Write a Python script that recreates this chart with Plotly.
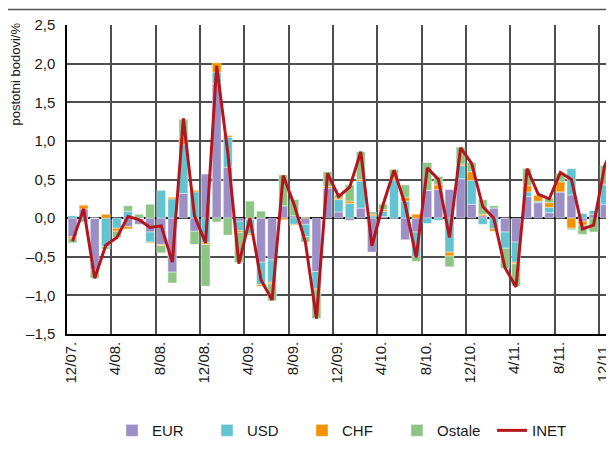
import plotly.graph_objects as go

tick_labels = ["12/07.", "4/08.", "8/08.", "12/08.", "4/09.", "8/09.", "12/09.",
               "4/10.", "8/10.", "12/10.", "4/11.", "8/11.", "12/11."]

eur = [-0.24, 0.12, -0.67, 0.00, 0.00, -0.11, -0.08, -0.18, -0.34, -0.70,
       0.32, -0.17, 0.57, 1.74, 0.66, -0.04, -0.02, -0.57, -0.54, 0.16,
       0.03, -0.08, -0.69, 0.39, 0.08, -0.03, 0.13, -0.44, 0.02, 0.00,
       -0.28, -0.18, 0.36, 0.37, 0.37, 0.51, 0.18, 0.03, 0.13, -0.18,
       -0.31, 0.28, 0.20, 0.07, 0.34, 0.30, -0.04, 0.05, 0.18, 0.38]
usd = [0.03, -0.05, 0.00, -0.37, -0.13, 0.09, 0.00, -0.13, 0.36, 0.25,
       0.63, 0.34, -0.32, 0.15, 0.39, -0.125, -0.18, -0.29, -0.29, 0.00,
       -0.08, -0.16, -0.22, 0.00, 0.16, 0.19, 0.35, 0.03, 0.07, 0.49,
       0.22, -0.32, -0.07, -0.03, -0.44, 0.17, 0.31, -0.08, -0.14, -0.21,
       -0.26, 0.06, 0.02, 0.07, 0.00, 0.34, 0.06, 0.05, 0.25, 0.21]
chf = [-0.02, 0.05, 0.00, 0.05, -0.04, -0.03, 0.00, -0.01, -0.015, 0.02,
       0.10, 0.02, -0.02, 0.12, 0.02, -0.02, -0.02, -0.02, -0.02, -0.02,
       -0.01, 0.01, -0.02, 0.02, 0.02, 0.03, 0.02, 0.02, 0.02, 0.02,
       0.05, 0.05, 0.00, 0.06, -0.05, 0.02, 0.11, 0.02, -0.03, 0.00,
       -0.02, 0.08, 0.08, 0.06, 0.13, -0.13, -0.05, 0.00, 0.01, 0.05]
ostale = [-0.06, 0.00, -0.11, -0.03, -0.08, 0.07, 0.05, 0.18, -0.095, -0.14,
          0.23, -0.17, -0.54, -0.05, -0.22, -0.39, 0.22, 0.09, -0.22, 0.40,
          0.21, -0.07, -0.37, 0.19, 0.04, 0.21, 0.36, 0.03, 0.07, 0.12,
          0.16, -0.06, 0.36, 0.11, -0.14, 0.22, 0.12, 0.19, 0.03, -0.26,
          -0.29, 0.22, 0.00, 0.06, 0.11, -0.02, -0.12, -0.18, 0.24, 0.34]
inet = [-0.30, 0.12, -0.78, -0.35, -0.25, 0.02, -0.02, -0.12, -0.10, -0.57,
        1.29, 0.03, -0.32, 1.97, 0.85, -0.59, 0.00, -0.80, -1.06, 0.55,
        0.17, -0.31, -1.30, 0.58, 0.28, 0.40, 0.86, -0.36, 0.17, 0.62,
        0.18, -0.51, 0.65, 0.50, -0.25, 0.91, 0.71, 0.15, 0.00, -0.64,
        -0.89, 0.64, 0.31, 0.25, 0.59, 0.50, -0.14, -0.09, 0.68, 0.99]

y_ticks = [2.5, 2.0, 1.5, 1.0, 0.5, 0.0, -0.5, -1.0, -1.5]
y_tick_text = ["2,5", "2,0", "1,5", "1,0", "0,5", "0,0", "–0,5", "–1,0", "–1,5"]

x = list(range(len(inet)))
tick_pos = list(range(0, len(inet), 4))[:len(tick_labels)]

FONT = "Liberation Sans, Arial, sans-serif"

series = [("EUR", eur, "#9b8fc6"), ("USD", usd, "#62c3d1"),
          ("CHF", chf, "#f39200"), ("Ostale", ostale, "#8dc585")]

fig = go.Figure()
for name, vals, col in series:
    fig.add_trace(go.Bar(x=x, y=vals, name=name, marker_color=col,
                         marker_line_color="rgba(255,255,255,0.7)",
                         marker_line_width=0.6))
fig.add_trace(go.Scatter(x=x, y=inet, name="INET", mode="lines",
                         line=dict(color="#b5161e", width=3)))

# the page body has an 8px margin: figure is laid out in page coords minus 8
OFF = 8
W, H = 614 - OFF, 463 - OFF
L = 67.3 - OFF
T = 24.6 - OFF
PB = 334.2 - OFF
B = H - PB
PH = PB - T
PW = W - L

fig.update_layout(
    template="none",
    width=W, height=H,
    margin=dict(l=L, r=0, t=T, b=B, pad=0, autoexpand=False),
    barmode="relative", bargap=0.2,
    plot_bgcolor="white", paper_bgcolor="white",
    font=dict(family=FONT, size=15, color="#1a1a1a"),
    showlegend=True,
    legend=dict(orientation="h", x=0.5 + 9 / PW, xanchor="center",
                y=-(431 - 334.2) / PH, yanchor="middle",
                font=dict(size=15), entrywidth=50, entrywidthmode="pixels",
                traceorder="normal", bgcolor="rgba(0,0,0,0)"),
    xaxis=dict(range=[-0.5, 48.84], tickmode="array",
               tickvals=[p - 0.5 for p in tick_pos], ticktext=tick_labels,
               tickangle=-90, ticks="", ticklabelshift=4, automargin=False,
               showgrid=True, gridcolor="#4d4d4d", gridwidth=1.5,
               showline=True, linecolor="black", linewidth=1.5,
               zeroline=False, tickfont=dict(size=15)),
    yaxis=dict(range=[-1.5, 2.5], tickmode="array", tickvals=y_ticks,
               ticktext=y_tick_text, ticks="", ticklabelstandoff=7,
               automargin=False,
               showgrid=True, gridcolor="#4d4d4d", gridwidth=1.5,
               zeroline=True, zerolinecolor="black", zerolinewidth=1.5,
               showline=True, linecolor="black", linewidth=1.5, mirror=True,
               tickfont=dict(size=15)),
)
fig.add_annotation(text="postotni bodovi/%", xref="paper", yref="paper",
                   x=(16 - OFF - L) / PW, y=1 + (T - (20 - OFF)) / PH,
                   xanchor="center", yanchor="top", textangle=-90,
                   showarrow=False, font=dict(size=13))
fig.add_shape(type="line", xref="paper", yref="paper",
              x0=-L / PW, x1=1.0,
              y0=1 + (T - 1.0) / PH, y1=1 + (T - 1.0) / PH,
              line=dict(color="#555555", width=1.5))

fig.write_html("out.html")
